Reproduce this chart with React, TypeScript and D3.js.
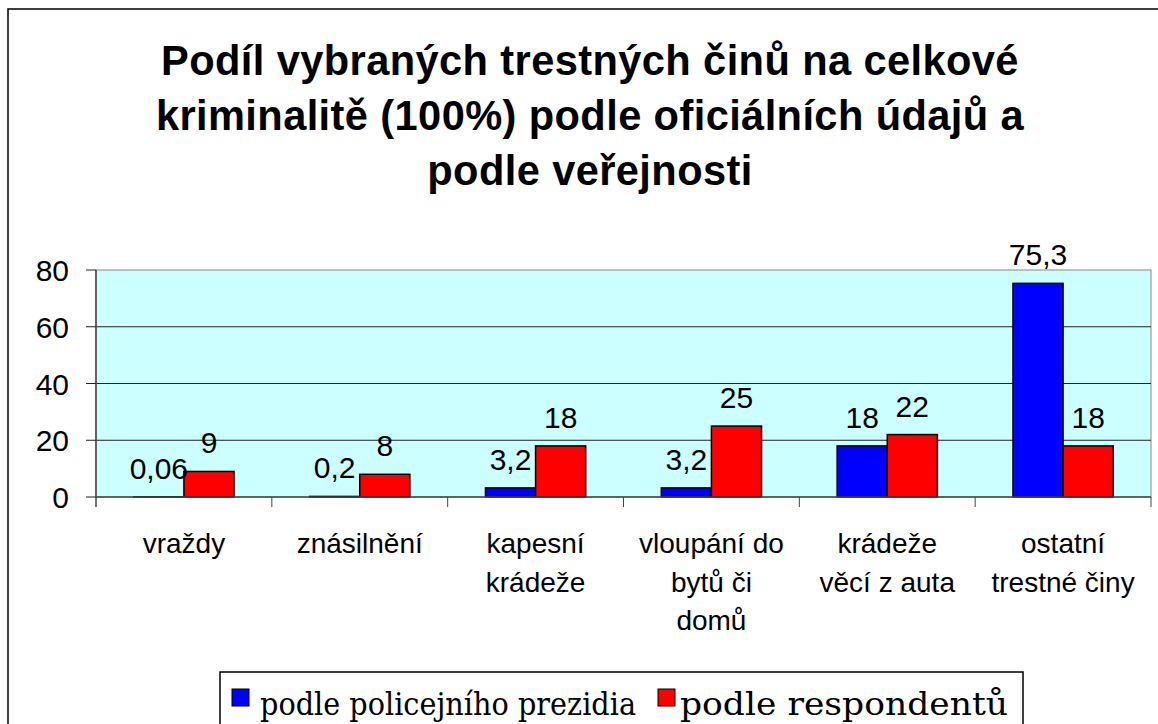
import React from "react";
import * as d3 from "d3";

const categories = [
  ["vraždy"],
  ["znásilnění"],
  ["kapesní", "krádeže"],
  ["vloupání do", "bytů či", "domů"],
  ["krádeže", "věcí z auta"],
  ["ostatní", "trestné činy"],
];
const seriesNames = ["podle policejního prezidia", "podle respondentů"];
const police = [0.06, 0.2, 3.2, 3.2, 18, 75.3];
const respondents = [9, 8, 18, 25, 22, 18];
const policeLabels = ["0,06", "0,2", "3,2", "3,2", "18", "75,3"];
const respondentLabels = ["9", "8", "18", "25", "22", "18"];
const yTicks = [0, 20, 40, 60, 80];
const titleLines = [
  "Podíl vybraných trestných činů na celkové",
  "kriminalitě (100%) podle oficiálních údajů a",
  "podle veřejnosti",
];
const colors = ["#0000FF", "#FF0000"];

const W = 1158;
const H = 724;
const plot = { left: 96, top: 270, right: 1151, bottom: 497 };
const sans = "'Liberation Sans', Arial, sans-serif";
const serif = "'DejaVu Serif', 'Liberation Serif', serif";

// legend entries: square x, text x, text width
const legendItems = [
  { sq: 232, tx: 260, len: 376 },
  { sq: 658, tx: 680, len: 328 },
];

const App = () => {
  const keys = categories.map((c) => c.join(" "));
  const x0 = d3.scaleBand().domain(keys).range([plot.left, plot.right]);
  const groupW = x0.bandwidth() * 0.57;
  const x1 = d3
    .scaleBand()
    .domain(["0", "1"])
    .range([(x0.bandwidth() - groupW) / 2, (x0.bandwidth() + groupW) / 2]);
  const y = d3.scaleLinear().domain([0, 80]).range([plot.bottom, plot.top]);

  const series = [
    { values: police, labels: policeLabels },
    { values: respondents, labels: respondentLabels },
  ];

  return (
    <svg
      width={W}
      height={H}
      style={{ position: "absolute", left: 0, top: 0, background: "#fff" }}
    >
      <rect x={8} y={9} width={W + 10} height={H + 10} fill="#fff" stroke="#000" strokeWidth={1.5} />

      {titleLines.map((t, i) => (
        <text
          key={i}
          x={590}
          y={75 + i * 55}
          textAnchor="middle"
          fontFamily={sans}
          fontWeight="bold"
          fontSize={41.6}
          letterSpacing={0.4}
        >
          {t}
        </text>
      ))}

      <rect
        x={plot.left}
        y={plot.top}
        width={plot.right - plot.left}
        height={plot.bottom - plot.top}
        fill="#CCFFFF"
        stroke="#888"
        strokeWidth={1}
      />

      {yTicks
        .filter((t) => t > 0 && t < 80)
        .map((t) => (
          <line key={t} x1={plot.left} x2={plot.right} y1={y(t)} y2={y(t)} stroke="#222" strokeWidth={1} />
        ))}

      {/* y axis */}
      <line x1={plot.left} x2={plot.left} y1={plot.top} y2={plot.bottom + 10} stroke="#444" strokeWidth={1.5} />
      {yTicks.map((t) => (
        <g key={t}>
          <line x1={plot.left - 10} x2={plot.left} y1={y(t)} y2={y(t)} stroke="#222" strokeWidth={1} />
          <text
            x={69}
            y={y(t) + 11}
            textAnchor="end"
            fontFamily={sans}
            fontSize={30}
          >
            {t}
          </text>
        </g>
      ))}

      {/* bars */}
      {keys.map((k, i) => (
        <g key={k} transform={`translate(${x0(k)},0)`}>
          {series.map((s, j) => (
            <rect
              key={j}
              x={x1(String(j))}
              y={y(s.values[i])}
              width={x1.bandwidth()}
              height={plot.bottom - y(s.values[i])}
              fill={colors[j]}
              stroke="#000"
              strokeWidth={1.5}
            />
          ))}
          {series.map((s, j) => (
            <text
              key={"l" + j}
              x={(x1(String(j)) as number) + x1.bandwidth() / 2}
              y={y(s.values[i]) - 18}
              textAnchor="middle"
              fontFamily={sans}
              fontSize={30}
            >
              {s.labels[i]}
            </text>
          ))}
        </g>
      ))}

      {/* x axis */}
      <line x1={plot.left} x2={plot.right} y1={plot.bottom} y2={plot.bottom} stroke="#444" strokeWidth={1.5} />
      {keys.map((k) => (
        <line
          key={"t" + k}
          x1={(x0(k) as number) + x0.bandwidth()}
          x2={(x0(k) as number) + x0.bandwidth()}
          y1={plot.bottom}
          y2={plot.bottom + 10}
          stroke="#444"
          strokeWidth={1}
        />
      ))}
      {categories.map((lines, i) => (
        <text
          key={"c" + i}
          textAnchor="middle"
          fontFamily={sans}
          fontSize={28}
        >
          {lines.map((ln, li) => (
            <tspan key={li} x={(x0(keys[i]) as number) + x0.bandwidth() / 2} y={553 + li * 38.5}>
              {ln}
            </tspan>
          ))}
        </text>
      ))}

      {/* legend */}
      <rect x={220} y={672} width={803} height={60} fill="#fff" stroke="#000" strokeWidth={1.5} />
      {legendItems.map((it, i) => (
        <g key={"lg" + i}>
          <rect x={it.sq} y={689} width={17} height={17} fill={colors[i]} stroke="#000" strokeWidth={1} />
          <text
            x={it.tx}
            y={715}
            fontFamily={serif}
            fontSize={31}
            textLength={it.len}
            lengthAdjust="spacingAndGlyphs"
          >
            {seriesNames[i]}
          </text>
        </g>
      ))}
    </svg>
  );
};

export default App;
